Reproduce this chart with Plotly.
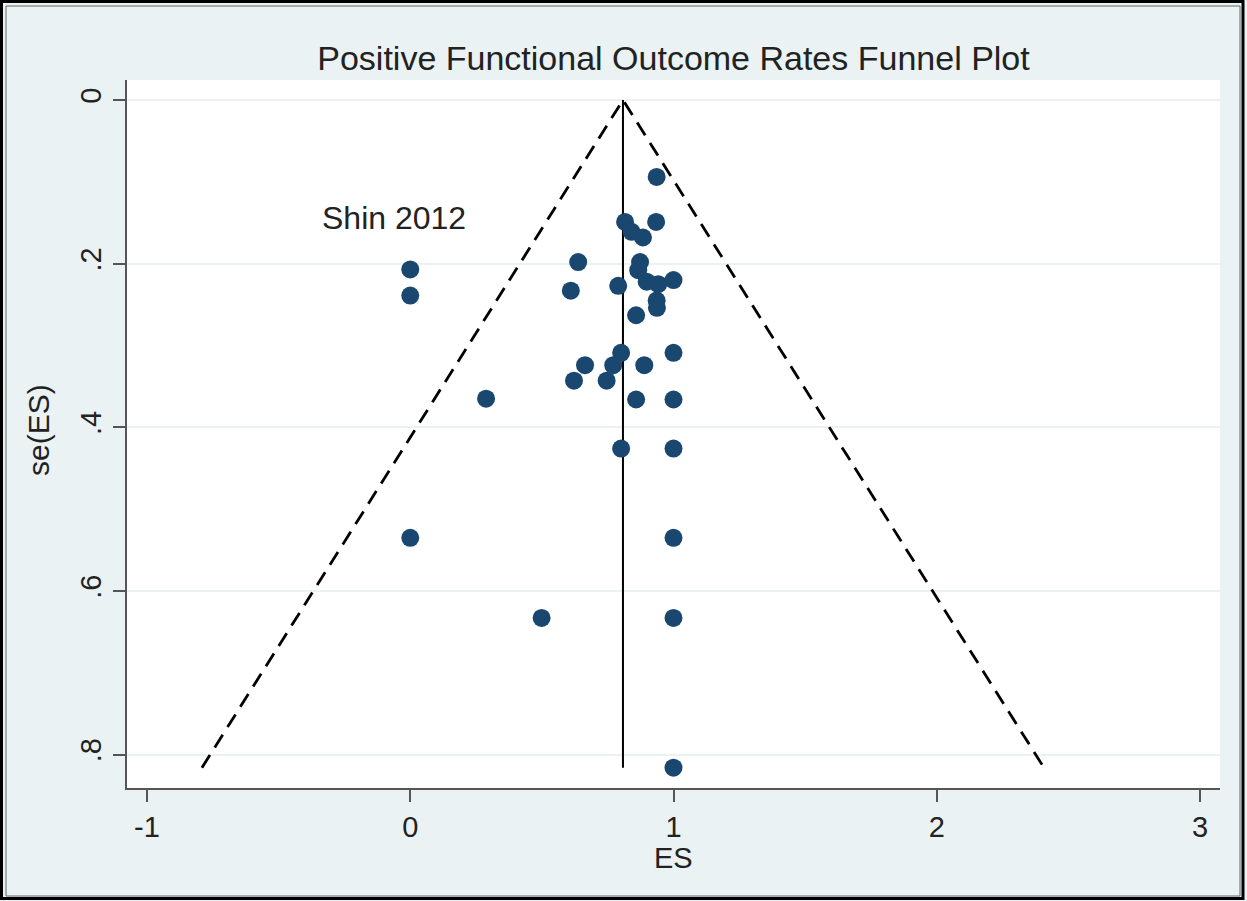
import plotly.graph_objects as go

# Study effect sizes (ES) and their standard errors se(ES)
es = [0.936, 0.816, 0.934, 0.841, 0.884, 0.873, 0.638, 0.610, 0.790, 0.866,
      0.898, 0.942, 1.000, 0.936, 0.937, 0.858, 0.801, 1.000, 0.664, 0.771,
      0.889, 0.622, 0.746, 0.858, 1.000, 0.801, 1.000, 0.000, 0.000, 0.288,
      0.000, 1.000, 0.499, 1.000, 1.000]
se = [0.094, 0.149, 0.149, 0.161, 0.168, 0.198, 0.198, 0.233, 0.227, 0.208,
      0.222, 0.225, 0.220, 0.245, 0.254, 0.263, 0.309, 0.309, 0.324, 0.324,
      0.324, 0.343, 0.343, 0.366, 0.366, 0.426, 0.426, 0.207, 0.239, 0.365,
      0.535, 0.535, 0.633, 0.633, 0.816]

pooled_es = 0.808
z = 1.96

x_ticks = [-1, 0, 1, 2, 3]
y_ticks = [0, 0.2, 0.4, 0.6, 0.8]
y_tick_text = ["0", ".2", ".4", ".6", ".8"]

title_text = "Positive Functional Outcome Rates Funnel Plot"
label_text = "Shin 2012"
label_pos = (-0.343, 0.144)

FONT = "Liberation Sans, Arial, Helvetica, sans-serif"
NAVY = "#1A476F"
BG = "#EAF2F3"
AXIS = "#555555"
TEXT = "#222222"

W, H = 1247, 901
ML, MR, MT, MB = 127, 27, 80, 113
PW, PH = W - ML - MR, H - MT - MB


def px_x(px):
    return (px - ML) / PW


def px_y(py):
    return (H - MB - py) / PH


se_max = max(se)

fig = go.Figure()

# pseudo 95% confidence limits
fig.add_trace(go.Scatter(
    x=[pooled_es - z * se_max, pooled_es, pooled_es + z * se_max],
    y=[se_max, 0, se_max],
    mode="lines",
    line=dict(color="black", width=2.8, dash="15px,9px"),
    hoverinfo="skip", showlegend=False,
))

# pooled estimate
fig.add_trace(go.Scatter(
    x=[pooled_es, pooled_es], y=[0, se_max],
    mode="lines", line=dict(color="black", width=2),
    hoverinfo="skip", showlegend=False,
))

# studies
fig.add_trace(go.Scatter(
    x=es, y=se, mode="markers",
    marker=dict(color=NAVY, size=18, line=dict(width=0)),
    showlegend=False,
))

fig.add_annotation(
    x=label_pos[0], y=label_pos[1], xref="x", yref="y",
    text=label_text, showarrow=False, xanchor="left", yanchor="middle",
    font=dict(family=FONT, size=32, color=TEXT),
)

# axis titles
fig.add_annotation(
    x=0.5, y=px_y(858), xref="paper", yref="paper", text="ES",
    showarrow=False, xanchor="center", yanchor="middle",
    font=dict(family=FONT, size=29, color=TEXT),
)
fig.add_annotation(
    x=px_x(38), y=px_y(430), xref="paper", yref="paper", text="se(ES)",
    showarrow=False, textangle=-90, xanchor="center", yanchor="middle",
    font=dict(family=FONT, size=30, color=TEXT),
)

# image frame
fig.add_shape(type="rect", xref="paper", yref="paper",
              x0=px_x(1.5), x1=px_x(1243), y0=px_y(1.5), y1=px_y(898.5),
              line=dict(color="black", width=3), layer="above")
fig.add_shape(type="rect", xref="paper", yref="paper",
              x0=px_x(6), x1=px_x(1240), y0=px_y(6), y1=px_y(896),
              line=dict(color="#666666", width=1), layer="above")

fig.update_layout(
    width=W, height=H,
    margin=dict(l=ML, r=MR, t=MT, b=MB, autoexpand=False),
    paper_bgcolor=BG, plot_bgcolor="white",
    title=dict(text=title_text, x=0.5, xref="paper", xanchor="center",
               y=1 - 58 / H, yanchor="middle",
               font=dict(family=FONT, size=34, color=TEXT)),
    font=dict(family=FONT, color=TEXT),
    showlegend=False,
)

fig.update_xaxes(
    range=[-1.076, 3.076], tickvals=x_ticks, ticktext=[str(v) for v in x_ticks],
    showgrid=False, zeroline=False,
    showline=True, linecolor=AXIS, linewidth=2,
    ticks="outside", ticklen=12, tickwidth=2, tickcolor=AXIS,
    tickfont=dict(family=FONT, size=29, color=TEXT),
)
fig.update_yaxes(
    range=[0.8408, -0.0245], tickvals=y_ticks, ticktext=y_tick_text,
    tickangle=-90,
    showgrid=True, gridcolor=BG, gridwidth=2, zeroline=False,
    showline=True, linecolor=AXIS, linewidth=2,
    ticks="outside", ticklen=12, tickwidth=2, tickcolor=AXIS,
    tickfont=dict(family=FONT, size=29, color=TEXT),
)

fig.write_html("out.html")
